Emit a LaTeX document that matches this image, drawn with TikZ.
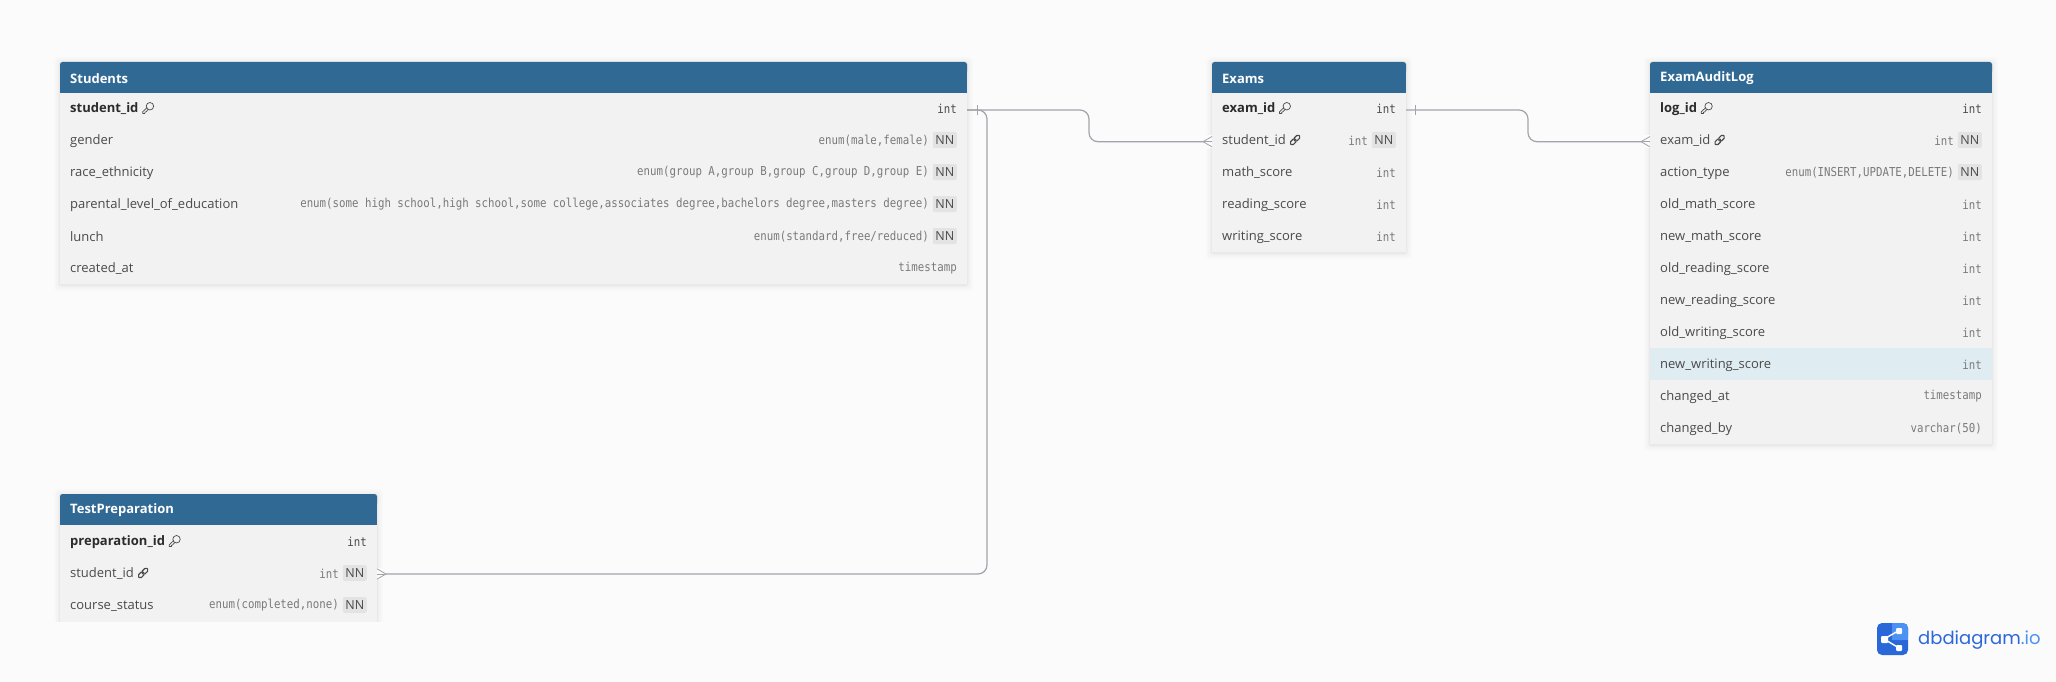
\documentclass[tikz,border=0pt]{standalone}
\usepackage{fontspec}
\setmainfont{Open Sans}
\newfontfamily\typefont[FakeStretch=0.875]{DejaVu Sans Mono}
\newfontfamily\logofont{Poppins}
\definecolor{pagebg}{HTML}{FBFBFB}
\definecolor{headblue}{HTML}{316995}
\definecolor{rowgrey}{HTML}{F2F2F2}
\definecolor{nnfill}{HTML}{E3E3E3}
\definecolor{nametext}{HTML}{4A4A4A}
\definecolor{pktext}{HTML}{2B2B2B}
\definecolor{typetext}{HTML}{7A7A7A}
\definecolor{linkgrey}{HTML}{A3A3AB}
\definecolor{hilite}{HTML}{DFEDF3}
\definecolor{logodark}{HTML}{2A68DA}
\definecolor{logolight}{HTML}{4C92F2}
\tikzset{
  x=1pt,y=-1pt,
  fieldname/.style={anchor=west,inner sep=0pt,font=\fontsize{13}{13}\selectfont,text=nametext},
  pkname/.style={fieldname,font=\fontsize{13}{13}\selectfont\bfseries,text=pktext},
  titletext/.style={anchor=west,inner sep=0pt,font=\fontsize{13}{13}\selectfont\bfseries,text=white},
  typename/.style={anchor=east,inner sep=0pt,font=\fontsize{12.3}{12}\typefont,text=typetext},
  pktype/.style={typename,text=nametext},
  nnbadge/.style={anchor=east,fill=nnfill,rounded corners=2pt,minimum width=24pt,minimum height=16pt,inner sep=0pt,font=\fontsize{12.5}{13}\selectfont,text=nametext},
  relline/.style={draw=linkgrey,line width=1.2pt,rounded corners=9pt},
  relthin/.style={draw=linkgrey,line width=.8pt},
  iconline/.style={draw=nametext,line width=.7pt,line join=round},
}
\newcommand{\tablebox}[6]{% name, left, right, top, bottom, title
  \foreach \s/\o in {6/.010,4/.014,2/.018,1/.022}{\fill[black,opacity=\o,rounded corners=3pt] (#2-\s,#4-\s+1) rectangle (#3+\s,#5+\s+1);}
  \fill[rowgrey] (#2,#4+20) rectangle (#3,#5);
  \fill[headblue,rounded corners=2.5pt] (#2,#4) rectangle (#3,#4+12);
  \fill[headblue] (#2,#4+5) rectangle (#3,#4+31);
  \node[titletext] (#1) at (#2+10,#4+16.5) {#6};
}
\newcommand{\fieldrow}[7]{% id, left, right, y, name, type, nn(0/1)
  \node[fieldname] (#1n) at (#2+10,#4+.8) {#5};
  \ifnum#7=1
    \node[nnbadge] (#1b) at (#3-10,#4) {NN};
    \node[typename] (#1t) at (#3-38,#4+.5) {#6};
  \else
    \node[typename] (#1t) at (#3-10,#4+.5) {#6};
  \fi
}
\begin{document}
\begin{tikzpicture}
\useasboundingbox (0,0) rectangle (2056,682);
\fill[pagebg] (0,0) rectangle (2056,682);

% Students
\tablebox{students}{60}{967}{62}{284}{Students}
\node[pkname] (sid) at (70,108.8) {student\_id};
\node[pktype] (sidt) at (957,108.5) {int};
\fieldrow{sg}{60}{967}{140}{gender}{enum(male,female)}{1}
\fieldrow{sr}{60}{967}{172}{race\_ethnicity}{enum(group A,group B,group C,group D,group E)}{1}
\fieldrow{sp}{60}{967}{204}{parental\_level\_of\_education}{enum(some high school,high school,some college,associates degree,bachelors degree,masters degree)}{1}
\fieldrow{sl}{60}{967}{236}{lunch}{enum(standard,free/reduced)}{1}
\fieldrow{sc}{60}{967}{268}{created\_at}{timestamp}{0}

% Exams
\tablebox{exams}{1212}{1406}{62}{252}{Exams}
\node[pkname] (eid) at (1222,108.8) {exam\_id};
\node[pktype] (eidt) at (1396,108.5) {int};
\fieldrow{es}{1212}{1406}{140}{student\_id}{int}{1}
\fieldrow{em}{1212}{1406}{172}{math\_score}{int}{0}
\fieldrow{er}{1212}{1406}{204}{reading\_score}{int}{0}
\fieldrow{ew}{1212}{1406}{236}{writing\_score}{int}{0}

% ExamAuditLog
\tablebox{audit}{1650}{1992}{62}{444}{ExamAuditLog}
\fill[hilite] (1650,348) rectangle (1992,380);
\node[pkname] (lid) at (1660,108.8) {log\_id};
\node[pktype] (lidt) at (1982,108.5) {int};
\fieldrow{ae}{1650}{1992}{140}{exam\_id}{int}{1}
\fieldrow{aa}{1650}{1992}{172}{action\_type}{enum(INSERT,UPDATE,DELETE)}{1}
\fieldrow{a1}{1650}{1992}{204}{old\_math\_score}{int}{0}
\fieldrow{a2}{1650}{1992}{236}{new\_math\_score}{int}{0}
\fieldrow{a3}{1650}{1992}{268}{old\_reading\_score}{int}{0}
\fieldrow{a4}{1650}{1992}{300}{new\_reading\_score}{int}{0}
\fieldrow{a5}{1650}{1992}{332}{old\_writing\_score}{int}{0}
\fieldrow{a6}{1650}{1992}{364}{new\_writing\_score}{int}{0}
\fieldrow{a7}{1650}{1992}{396}{changed\_at}{timestamp}{0}
\fieldrow{a8}{1650}{1992}{428}{changed\_by}{varchar(50)}{0}

% TestPreparation (its lower edge is cut off flat, with no shadow below)
\tablebox{prep}{60}{377}{494}{622}{TestPreparation}
\fill[pagebg] (50,622) rectangle (390,632);
\node[pkname] (pid) at (70,541.8) {preparation\_id};
\node[pktype] (pidt) at (367,541.5) {int};
\fieldrow{ps}{60}{377}{573}{student\_id}{int}{1}
\fieldrow{pc}{60}{377}{605}{course\_status}{enum(completed,none)}{1}

% key icons
\foreach \n in {sid,eid,lid,pid}{
  \path (\n.east) ++(9.5,-.8) coordinate (k\n);
  \begin{scope}[shift={(k\n)},scale=1.1]
    \draw[iconline] (1.6,-1.6) circle (3.4pt);
    \draw[iconline] (-.9,-.4) -- (-5,3.4) -- (-5,5) -- (-3,5) -- (-3,3.8) -- (-2,3.6) -- (.4,.9);
  \end{scope}
}
% link icons
\foreach \n in {esn,aen,psn}{
  \path (\n.east) ++(9,-.8) coordinate (l\n);
  \begin{scope}[shift={(l\n)},rotate=45]
    \draw[iconline,line width=1.1pt,rounded corners=1.6pt] (-6,-2) rectangle (.8,2);
    \draw[iconline,line width=1.1pt,rounded corners=1.6pt] (-.8,-2) rectangle (6,2);
  \end{scope}
}

% anchors for connectors
\coordinate (c1) at (967,110);
\coordinate (c2) at (1212,141.7);
\coordinate (c3) at (377,574);
\coordinate (c4) at (1406,110);
\coordinate (c5) at (1650,141.7);

\draw[relline] (c1) -- (1089,110) -- (1089,141.7) -- (c2);
\draw[relline] (c1) -- (987,110) -- (987,574) -- (c3);
\draw[relline] (c4) -- (1528,110) -- (1528,141.7) -- (c5);

% cardinality marks
\draw[relthin] (977,105) -- (977,115);
\draw[relthin] (1415,105) -- (1415,115);
\fill[pagebg] (1203,135.5) rectangle (1212,148);
\fill[pagebg] (1641,135.5) rectangle (1650,148);
\fill[pagebg] (377,568) rectangle (386,580);
\draw[relthin] (1212,136.5) -- (1203,141.7) -- (1212,146.9);
\draw[relthin] (1203,141.7) -- (1212,141.7);
\draw[relthin] (1650,136.5) -- (1641,141.7) -- (1650,146.9);
\draw[relthin] (1641,141.7) -- (1650,141.7);
\draw[relthin] (377,568.8) -- (386,574) -- (377,579.2);
\draw[relthin] (377,574) -- (386,574);

% logo
\fill[logodark,rounded corners=5pt] (1877,623) rectangle (1908,655);
\fill[logolight,rounded corners=5pt] (1892,623) rectangle (1908,640);
\fill[logolight] (1892,623) rectangle (1900,640);
\fill[logolight] (1892,632) rectangle (1908,640);
\draw[white,line width=1.4pt] (1899,630.5) -- (1884,639) -- (1899,648);
\fill[white,rounded corners=1pt] (1881,636) rectangle (1888,643);
\fill[white,rounded corners=1pt] (1896,628) rectangle (1902,634);
\fill[white,rounded corners=1pt] (1896,645) rectangle (1902,651);
\node[anchor=west,inner sep=0pt,font=\fontsize{18}{18}\logofont,text=logodark] (logo) at (1918,640.5) {dbdiagram\textcolor{logolight}{.io}};
\end{tikzpicture}
\end{document}
